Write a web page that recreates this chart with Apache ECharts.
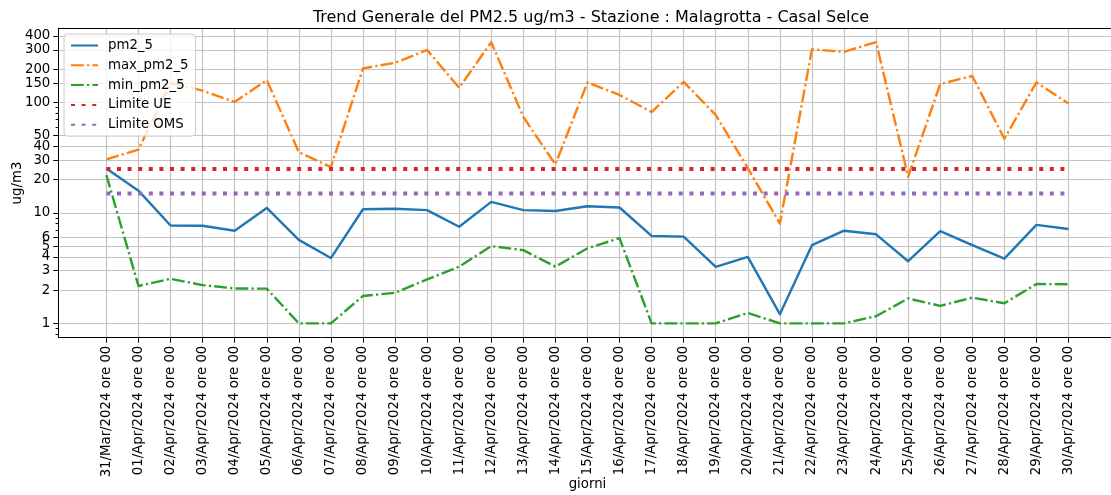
<!DOCTYPE html>
<html><head><meta charset="utf-8">
<script src="https://cdn.jsdelivr.net/npm/echarts@6/dist/echarts.min.js"></script>
<style>html,body{margin:0;padding:0;background:#fff}#c{width:1111px;height:495px}</style>
</head><body><div id="c"></div>
<script>
const giorni = ["31/Mar/2024 ore 00","01/Apr/2024 ore 00","02/Apr/2024 ore 00","03/Apr/2024 ore 00","04/Apr/2024 ore 00","05/Apr/2024 ore 00","06/Apr/2024 ore 00","07/Apr/2024 ore 00","08/Apr/2024 ore 00","09/Apr/2024 ore 00","10/Apr/2024 ore 00","11/Apr/2024 ore 00","12/Apr/2024 ore 00","13/Apr/2024 ore 00","14/Apr/2024 ore 00","15/Apr/2024 ore 00","16/Apr/2024 ore 00","17/Apr/2024 ore 00","18/Apr/2024 ore 00","19/Apr/2024 ore 00","20/Apr/2024 ore 00","21/Apr/2024 ore 00","22/Apr/2024 ore 00","23/Apr/2024 ore 00","24/Apr/2024 ore 00","25/Apr/2024 ore 00","26/Apr/2024 ore 00","27/Apr/2024 ore 00","28/Apr/2024 ore 00","29/Apr/2024 ore 00","30/Apr/2024 ore 00"];
const pm2_5 = [25.3,15.9,7.7,7.65,6.9,11.1,5.7,3.9,10.8,10.9,10.6,7.5,12.6,10.6,10.4,11.5,11.2,6.2,6.1,3.25,4.0,1.21,5.1,6.9,6.4,3.65,6.85,5.1,3.85,7.8,7.15];
const max_pm2_5 = [30.5,37.5,150,128,101,160,35.5,26,204,229,299,136,352,74,27.5,152,117,82,154,77,25.5,8.0,303,288,352,21.3,147,174,47,152,98];
const min_pm2_5 = [22,2.18,2.53,2.22,2.07,2.06,1.0,1.0,1.77,1.89,2.5,3.26,5.0,4.6,3.26,4.78,5.9,1.0,1.0,1.0,1.24,1.0,1.0,1.0,1.16,1.68,1.44,1.71,1.52,2.27,2.26];
const limiteUE = [25,25,25,25,25,25,25,25,25,25,25,25,25,25,25,25,25,25,25,25,25,25,25,25,25,25,25,25,25,25,25];
const limiteOMS = [15,15,15,15,15,15,15,15,15,15,15,15,15,15,15,15,15,15,15,15,15,15,15,15,15,15,15,15,15,15,15];
const yTicks = [1,2,3,4,5,6,10,20,30,40,50,100,150,200,300,400];
const yMinorTicks = [0.8,0.9,7,8,9,60,70,80,90];

const idx = giorni.map((d, i) => i);
const pairs = arr => arr.map((v, i) => [i, v]);
const FONT = 'DejaVu Sans';
const chart = echarts.init(document.getElementById('c'), null, {renderer: 'canvas'});

function lineSeries(name, arr, color, width, dash, z) {
  return {
    name: name, type: 'line', data: pairs(arr), xAxisIndex: 0, yAxisIndex: 0,
    symbol: 'none', showSymbol: false, animation: false, z: z,
    lineStyle: {color: color, width: width, type: dash, cap: 'butt', join: 'round'},
    itemStyle: {color: color},
    emphasis: {disabled: true}
  };
}

chart.setOption({
  backgroundColor: '#ffffff',
  animation: false,
  title: {
    text: 'Trend Generale del PM2.5 ug/m3 - Stazione : Malagrotta - Casal Selce',
    left: 586, top: 5, textAlign: 'center',
    textStyle: {fontFamily: FONT, fontSize: 16, fontWeight: 'normal', color: '#000'}
  },
  legend: {
    orient: 'vertical', left: 64, top: 34,
    itemWidth: 27, itemHeight: 14, itemGap: 6.8,
    padding: [5, 7, 5, 6],
    backgroundColor: 'rgba(255,255,255,0.8)',
    borderColor: '#cccccc', borderWidth: 1, borderRadius: 4,
    itemStyle: {opacity: 0},
    textStyle: {fontFamily: FONT, fontSize: 13.3, color: '#000', padding: [0, 0, 0, 5]},
    data: ['pm2_5', 'max_pm2_5', 'min_pm2_5', 'Limite UE', 'Limite OMS'],
    selectedMode: false
  },
  grid: {left: 58.3, top: 28.3, width: 1058.3, height: 309.4, outerBoundsMode: 'none', containLabel: false},
  xAxis: [{
    type: 'value', min: -1.5, max: 31.5, position: 'bottom',
    name: 'giorni', nameLocation: 'middle', nameGap: 140, nameMoveOverlap: false,
    nameTextStyle: {fontFamily: FONT, fontSize: 13.3, color: '#000'},
    axisLine: {show: true, onZero: false, lineStyle: {color: '#000', width: 1}},
    axisTick: {show: true, customValues: idx, length: 5, lineStyle: {color: '#000', width: 1}},
    axisLabel: {show: true, customValues: idx, rotate: 90, margin: 8,
      formatter: v => giorni[Math.round(v)],
      fontFamily: FONT, fontSize: 13.3, color: '#000'},
    splitLine: {show: true, lineStyle: {color: '#c4c4c4', width: 1.2}}
  }, {
    type: 'value', min: -1.5, max: 31.5, position: 'top',
    axisLine: {show: true, onZero: false, lineStyle: {color: '#000', width: 1}},
    axisTick: {show: false}, axisLabel: {show: false}, splitLine: {show: false}
  }],
  yAxis: [{
    type: 'log', logBase: 10, min: 0.741, max: 470, position: 'left',
    name: 'ug/m3', nameLocation: 'middle', nameGap: 34, nameMoveOverlap: false,
    nameTextStyle: {fontFamily: FONT, fontSize: 13.3, color: '#000'},
    axisLine: {show: true, onZero: false, lineStyle: {color: '#000', width: 1}},
    axisTick: {show: true, customValues: yTicks, length: 5, lineStyle: {color: '#000', width: 1}},
    axisLabel: {show: true, customValues: yTicks, margin: 8,
      formatter: v => String(Math.round(v)),
      fontFamily: FONT, fontSize: 13.3, color: '#000'},
    splitLine: {show: true, lineStyle: {color: '#c4c4c4', width: 1.2}},
    minorTick: {show: false}, minorSplitLine: {show: false}
  }, {
    type: 'log', logBase: 10, min: 0.741, max: 470, position: 'left', offset: 0,
    axisLine: {show: false, onZero: false},
    axisTick: {show: true, customValues: yMinorTicks, length: 2.7, lineStyle: {color: '#000', width: 1}},
    axisLabel: {show: false}, splitLine: {show: false}
  }],
  series: [
    lineSeries('pm2_5', pm2_5, '#1f77b4', 2.4, 'solid', 2),
    lineSeries('max_pm2_5', max_pm2_5, '#ff7f0e', 2.4, [12.8, 3.2, 2.2, 3.2], 3),
    lineSeries('min_pm2_5', min_pm2_5, '#2ca02c', 2.4, [12.8, 3.2, 2.2, 3.2], 4),
    lineSeries('Limite UE', limiteUE, '#d62728', 4, [4, 6.6], 5),
    lineSeries('Limite OMS', limiteOMS, '#9467bd', 4, [4, 6.6], 6)
  ]
});
</script>
</body></html>
